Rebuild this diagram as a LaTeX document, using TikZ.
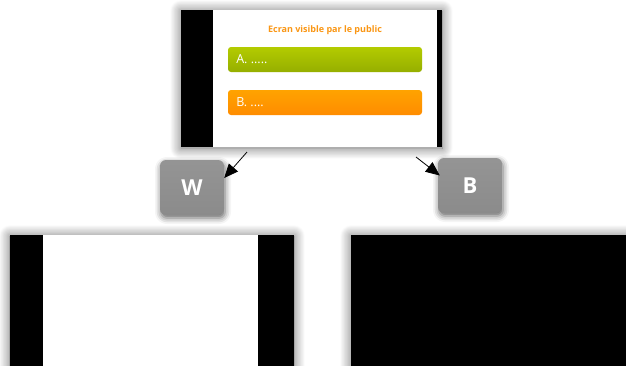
\documentclass[tikz,border=0pt]{standalone}
\usepackage{fontspec}
\setmainfont{Open Sans}
\usetikzlibrary{arrows.meta, positioning, calc, shadows.blur}
\definecolor{ecranorange}{RGB}{250,150,20}
\definecolor{barvert}{RGB}{166,194,0}
\definecolor{barorange}{RGB}{255,140,0}
\definecolor{btngris}{RGB}{158,158,158}
\tikzset{
    glow/.style = {blur shadow={shadow xshift=0pt, shadow yshift=-1pt, shadow blur radius=11pt, shadow blur steps=14, shadow opacity=60}},
    screen/.style = {rectangle, fill=black, inner sep=0pt, glow},
    slide/.style = {rectangle, fill=white, inner sep=0pt},
    bar/.style = {rectangle, rounded corners=3pt, minimum width=194pt, minimum height=25pt, inner sep=0pt},
    bartext/.style = {anchor=west, text=white, font=\fontsize{12.5}{14}\selectfont},
    vbar/.style = {bar, top color=barvert!85!yellow, bottom color=barvert!90!black},
    obar/.style = {bar, top color=barorange!80!yellow, bottom color=barorange},
    btn/.style = {rectangle, rounded corners=6pt, minimum width=64pt, minimum height=55pt, inner sep=0pt, top color=btngris!110!white, bottom color=btngris!88!black, text=white, font=\fontsize{22}{24}\selectfont\bfseries, blur shadow={shadow xshift=1pt, shadow yshift=-3pt, shadow blur radius=6pt, shadow opacity=60}},
    arrow/.style = {-{Triangle[length=14pt, width=12pt]}, line width=0.8pt}
}

\begin{document}
\begin{tikzpicture}[x=1pt, y=-1pt]
    \useasboundingbox (0,0) rectangle (626,365);
    % ecran du haut
    \node[screen, minimum width=261pt, minimum height=137pt] (S) at (311.5,78.5) {};
    \node[slide, minimum width=224pt, minimum height=137pt] (P) at (325,78.5) {};
    \node[text=ecranorange, font=\fontsize{9}{10}\selectfont\bfseries] (T) at (325,30) {Ecran visible par le public};
    \node[vbar] (A) at (325,59.5) {};
    \node[bartext] (Atxt) at (A.west) [xshift=5pt] {A. .....};
    \node[obar] (B) at (325,102.5) {};
    \node[bartext] (Btxt) at (B.west) [xshift=5pt] {B. ....};

    % boutons
    \node[btn] (W) at (192,187.5) {W};
    \node[btn] (Bk) at (470,185.5) {B};
    \coordinate (Wfrom) at (247,152);
    \coordinate (Bfrom) at (416,157);
    \draw[arrow] (Wfrom) -- ([yshift=9.5pt]W.east);
    \draw[arrow] (Bfrom) -- ([yshift=10pt, xshift=2pt]Bk.west);

    % ecrans du bas
    \node[screen, minimum width=284pt, minimum height=150pt] (SW) at (152,310) {};
    \node[slide, minimum width=215pt, minimum height=150pt] (PW) at (150.5,310) {};
    \node[screen, minimum width=290pt, minimum height=150pt] (SB) at (496,310) {};
\end{tikzpicture}
\end{document}
